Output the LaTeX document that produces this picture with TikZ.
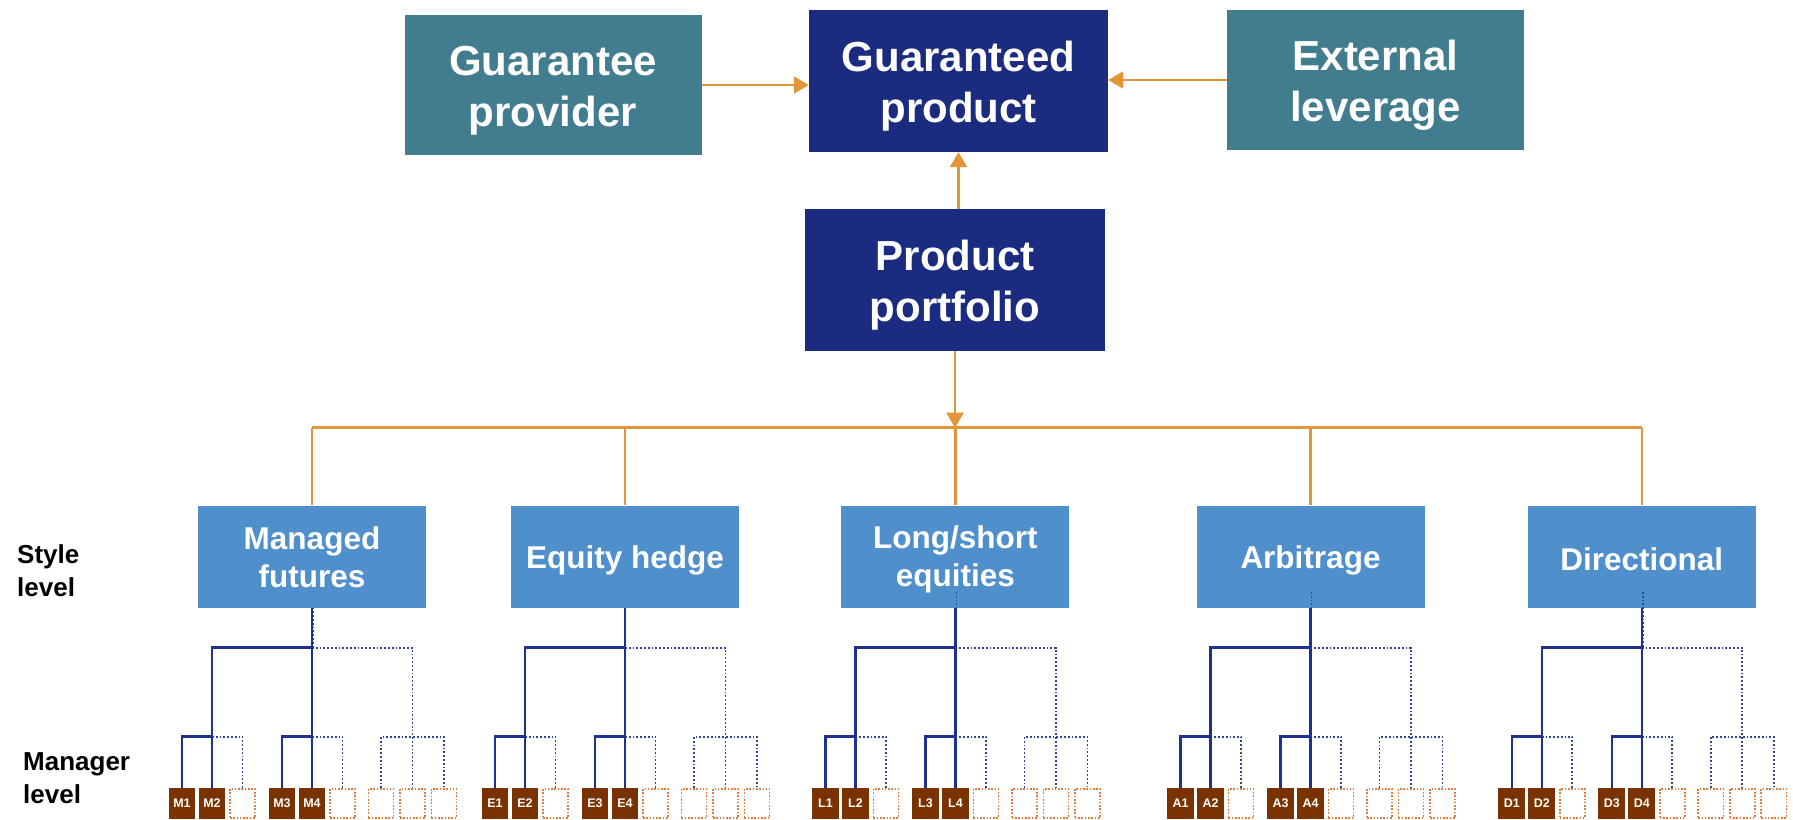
\documentclass[tikz,border=0pt]{standalone}
\usepackage{fontspec}
\setmainfont{Liberation Sans}
\usetikzlibrary{arrows.meta,calc}

\definecolor{boxteal}{HTML}{427D8F}
\definecolor{boxnavy}{HTML}{1B2C80}
\definecolor{styleblue}{HTML}{4F8FCC}
\definecolor{linkorange}{HTML}{E3953A}
\definecolor{leafbrown}{HTML}{7A3300}
\definecolor{leafdot}{HTML}{E07B39}
\definecolor{treenavy}{HTML}{1E3190}
\definecolor{treedot}{HTML}{2F4597}

% fixed line heights so every box text sits at the same place
\newcommand\bigfirst{\rule[-9pt]{0pt}{50pt}}
\newcommand\bigline{\rule[-9pt]{0pt}{40pt}}
\newcommand\midfirst{\rule[-4pt]{0pt}{32pt}}
\newcommand\midline{\rule[-4pt]{0pt}{30pt}}
\newcommand\midsingle{\rule[-4pt]{0pt}{35pt}}

\begin{document}
\begin{tikzpicture}[x=1pt,y=-1pt,
  topbox/.style={text=white, font=\fontsize{42}{51}\selectfont\bfseries, align=center,
    minimum width=297pt, minimum height=140pt, inner sep=0pt},
  stylebox/.style={fill=styleblue, text=white, font=\fontsize{31.5}{38}\selectfont\bfseries,
    align=center, minimum width=228pt, minimum height=102pt, inner sep=0pt},
  leafbox/.style={fill=leafbrown, text=white, font=\fontsize{12.5}{14}\selectfont\bfseries,
    minimum width=26.7pt, minimum height=30.5pt, inner sep=0pt},
  emptyleaf/.style={draw=leafdot, line width=1.6pt, dash pattern=on 1.6pt off 1.7pt,
    minimum width=25.1pt, minimum height=28.9pt, inner sep=0pt},
  levellabel/.style={font=\fontsize{26}{33}\selectfont\bfseries, align=left, anchor=west, inner sep=0pt},
  link/.style={draw=linkorange, line width=2.5pt, -{Triangle[length=15pt,width=17pt]}},
  busline/.style={draw=linkorange, line width=2.5pt},
  solidtree/.style={draw=treenavy, line width=2.5pt},
  dottree/.style={draw=treedot, line width=1.8pt, dash pattern=on 1.8pt off 2pt}
]
\useasboundingbox (0,0) rectangle (1793,819);

% top level
\node[topbox, fill=boxteal] (gprov) at (553,85) {\bigfirst Guarantee\\\bigline provider};
\node[topbox, fill=boxnavy, minimum width=299pt, minimum height=142pt] (gprod) at (958.5,81) {\bigfirst Guaranteed\\\bigline product};
\node[topbox, fill=boxteal] (ext) at (1375.5,80) {\bigfirst External\\\bigline leverage};
\node[topbox, fill=boxnavy, minimum width=300pt, minimum height=142pt] (port) at (955,280) {\bigfirst Product\\\bigline portfolio};

\draw[link] (gprov.east) -- (gprov.east -| gprod.west);
\draw[link] (ext.west) -- (ext.west -| gprod.east);
\draw[link] (gprod.south |- port.north) -- (gprod.south);

% level labels
\node[levellabel] (stylelbl) at (17,571) {Style\\level};
\node[levellabel] (mgrlbl) at (23,778) {Manager\\level};

% styles and their manager trees
\foreach \i/\cx/\L/\stem/\txt in {
    1/312/M/607.5/{\midfirst Managed\\\midline futures},
    2/625/E/647.7/{\midsingle Equity hedge},
    3/955.4/L/592/{\midfirst Long/short\\\midline equities},
    4/1310.5/A/592/{\midsingle Arbitrage},
    5/1641.8/D/592/{\midsingle Directional}} {
  \node[stylebox] (s\i) at (\cx,556.5) {\txt};
  \coordinate (l1-\i) at (\cx,647.7);
  \coordinate (l2-\i) at (\cx,736.7);
  \coordinate (stem-\i) at (\cx+1,\stem);
  \foreach \k/\dx/\n in {1/-130/1,2/-100/2,3/-69.5/0,4/-30/3,5/0/4,6/30.5/0,7/69/0,8/100.5/0,9/132/0} {
    \ifnum\n>0
      \node[leafbox] (s\i-\k) at ({\cx+\dx},803.5) {\L\n};
    \else
      \node[emptyleaf] (s\i-\k) at ({\cx+\dx},803.5) {};
    \fi
  }
  % vacant branches
  \draw[dottree] (stem-\i) -- (stem-\i |- l1-\i);
  \draw[dottree] (l1-\i) -| (s\i-8.north);
  \draw[dottree] (s\i-2.north |- l2-\i) -| (s\i-3.north);
  \draw[dottree] (l2-\i) -| (s\i-6.north);
  \draw[dottree] (s\i-7.north) |- (s\i-9.north |- l2-\i) -- (s\i-9.north);
  % filled branches
  \draw[solidtree] (s\i.south) -- (s\i-5.north);
  \draw[solidtree] (s\i-2.north) |- (l1-\i);
  \draw[solidtree] (s\i-1.north) |- (s\i-2.north |- l2-\i);
  \draw[solidtree] (s\i-4.north) |- (l2-\i);
}

% portfolio to styles
\coordinate (bus) at (955,427.7);
\draw[busline] (s1.north |- bus) -- (s5.north |- bus);
\foreach \i in {1,...,5} {
  \draw[busline] (s\i.north |- bus) -- (s\i.north);
}
\draw[link] (port.south) -- (port.south |- bus);
\end{tikzpicture}
\end{document}
